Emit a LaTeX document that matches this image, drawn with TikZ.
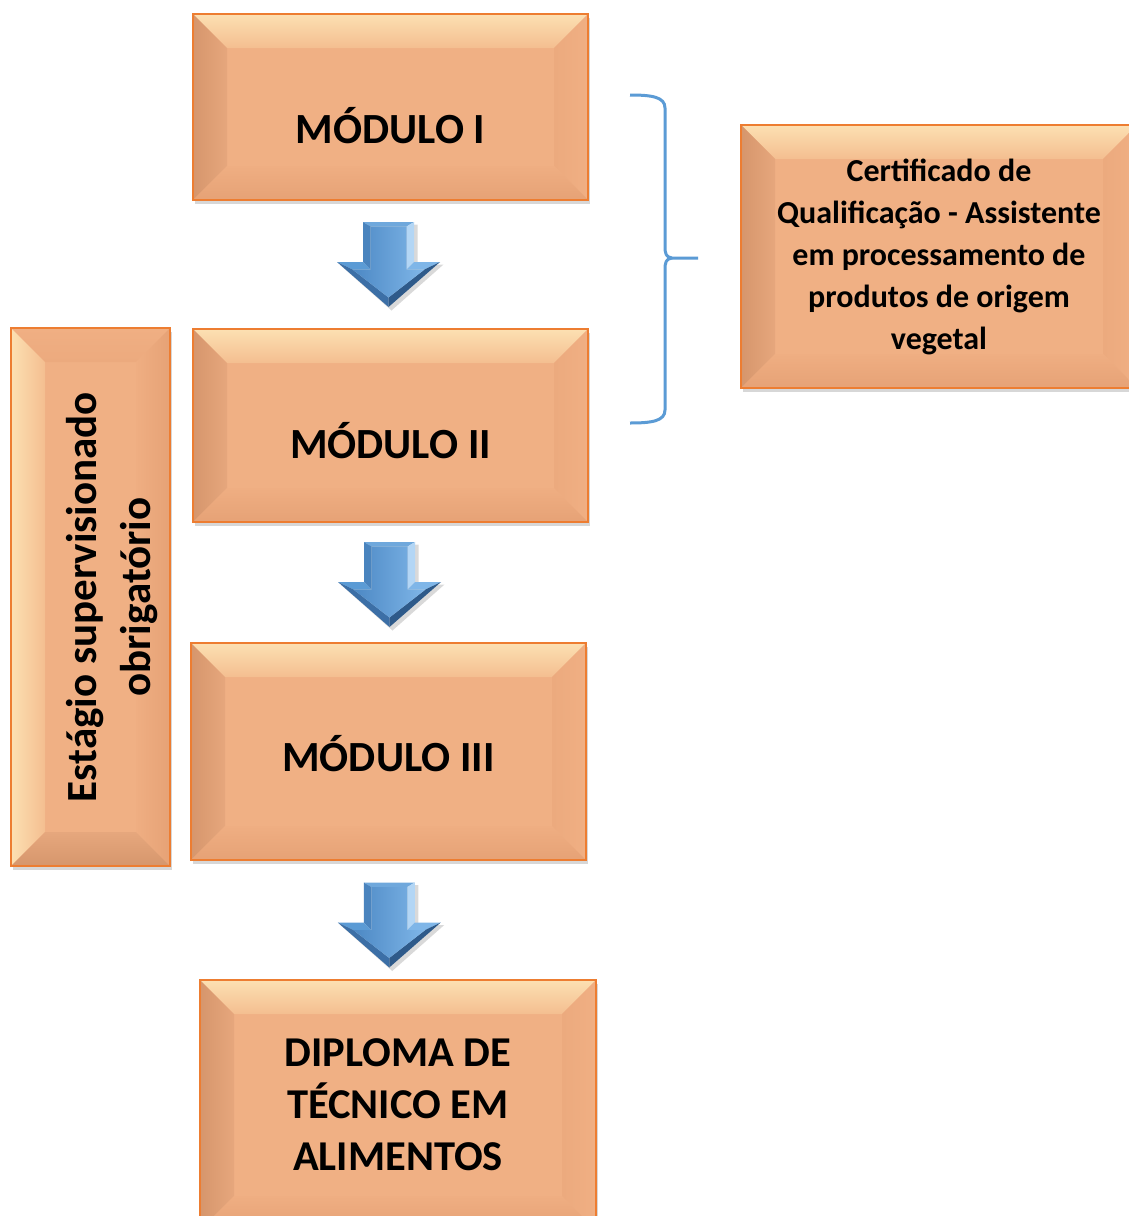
\documentclass[tikz,border=0pt]{standalone}
\usepackage{fontspec}
\setmainfont{Carlito}
\usetikzlibrary{calc,shadows}
\definecolor{boxface}{HTML}{F0B084}
\definecolor{boxborder}{HTML}{ED7D31}
\definecolor{bevtopA}{HTML}{FCE0B2}
\definecolor{bevtopB}{HTML}{F4BE90}
\definecolor{bevleftA}{HTML}{D6966C}
\definecolor{bevleftB}{HTML}{E6A77D}
\definecolor{bevrightA}{HTML}{F0AF83}
\definecolor{bevrightB}{HTML}{ECAA7E}
\definecolor{bevbotA}{HTML}{EFAE82}
\definecolor{bevbotB}{HTML}{E6A276}
\definecolor{bracecol}{HTML}{5B9BD5}
\definecolor{arrface}{HTML}{5B9BD5}
\definecolor{arrfaceL}{HTML}{4C88C4}
\definecolor{arrfaceR}{HTML}{7FB6E8}
\definecolor{arrtop}{HTML}{6FA8DC}
\definecolor{arrleft}{HTML}{4A84BE}
\definecolor{arrright}{HTML}{B3D6F5}
\definecolor{arrdark}{HTML}{3C6FA6}
\definecolor{arrdarker}{HTML}{2E5A8A}
\tikzset{
  bevelfill/.style={path picture={
    \def\bd{34pt}
    \coordinate (bnw) at (path picture bounding box.north west);
    \coordinate (bne) at (path picture bounding box.north east);
    \coordinate (bsw) at (path picture bounding box.south west);
    \coordinate (bse) at (path picture bounding box.south east);
    \shade[top color=bevtopA, bottom color=bevtopB] (bnw) -- (bne) -- ([xshift=-\bd,yshift=-\bd]bne) -- ([xshift=\bd,yshift=-\bd]bnw) -- cycle;
    \shade[left color=bevleftA, right color=bevleftB] (bnw) -- (bsw) -- ([xshift=\bd,yshift=\bd]bsw) -- ([xshift=\bd,yshift=-\bd]bnw) -- cycle;
    \shade[left color=bevrightB, right color=bevrightA] (bne) -- (bse) -- ([xshift=-\bd,yshift=\bd]bse) -- ([xshift=-\bd,yshift=-\bd]bne) -- cycle;
    \shade[top color=bevbotA, bottom color=bevbotB] (bsw) -- (bse) -- ([xshift=-\bd,yshift=\bd]bse) -- ([xshift=\bd,yshift=\bd]bsw) -- cycle;
  }},
  bevelrot/.style={path picture={
    \def\bd{34pt}
    \coordinate (bnw) at (path picture bounding box.north west);
    \coordinate (bne) at (path picture bounding box.north east);
    \coordinate (bsw) at (path picture bounding box.south west);
    \coordinate (bse) at (path picture bounding box.south east);
    \shade[top color=bevrightA, bottom color=bevrightB] (bnw) -- (bne) -- ([xshift=-\bd,yshift=-\bd]bne) -- ([xshift=\bd,yshift=-\bd]bnw) -- cycle;
    \shade[left color=bevtopA, right color=bevtopB] (bnw) -- (bsw) -- ([xshift=\bd,yshift=\bd]bsw) -- ([xshift=\bd,yshift=-\bd]bnw) -- cycle;
    \shade[left color=bevbotA, right color=bevbotB] (bne) -- (bse) -- ([xshift=-\bd,yshift=\bd]bse) -- ([xshift=-\bd,yshift=-\bd]bne) -- cycle;
    \shade[top color=bevleftB, bottom color=bevleftA] (bsw) -- (bse) -- ([xshift=-\bd,yshift=\bd]bse) -- ([xshift=\bd,yshift=\bd]bsw) -- cycle;
  }},
  boxbase/.style={draw=boxborder, line width=1.6pt, fill=boxface,
    align=center, inner sep=0pt, text=black,
    drop shadow={opacity=0.22, shadow xshift=2pt, shadow yshift=-4pt, fill=black!70}},
  orangebox/.style={boxbase, bevelfill},
  orangeboxrot/.style={boxbase, bevelrot},
  modfont/.style={font=\fontsize{43}{52}\selectfont\bfseries, text depth=0pt},
  blockarrow/.pic={
    \fill[black, opacity=0.15] (-23,-40) -- (29,-40) -- (29,0) -- (55,0) -- (3,46) -- (-49,0) -- (-23,0) -- cycle;
    \fill[arrtop] (-25.5,-42.5) -- (25.5,-42.5) -- (18,-38) -- (-18,-38) -- cycle;
    \fill[arrleft] (-25.5,-42.5) -- (-18,-38) -- (-18,5) -- (-25.5,-2.5) -- cycle;
    \fill[arrright] (25.5,-42.5) -- (18,-38) -- (18,5) -- (25.5,-2.5) -- cycle;
    \fill[arrface] (-25.5,-2.5) -- (-18,5) -- (-36,5) -- (-51.5,-2.5) -- cycle;
    \fill[arrfaceR] (25.5,-2.5) -- (18,5) -- (36,5) -- (51.5,-2.5) -- cycle;
    \fill[arrdark] (-51.5,-2.5) -- (-36,5) -- (0,33) -- (0,42.5) -- cycle;
    \fill[arrdarker] (51.5,-2.5) -- (36,5) -- (0,33) -- (0,42.5) -- cycle;
    \shade[left color=arrfaceL, right color=arrfaceR] (-18,-38) -- (18,-38) -- (18,5) -- (36,5) -- (0,33) -- (-36,5) -- (-18,5) -- cycle;
  },
}
\begin{document}
\begin{tikzpicture}[x=1pt,y=-1pt]
\useasboundingbox (0,0) rectangle (1129,1216);
\clip (0,0) rectangle (1129,1216);
\fill[white] (0,0) rectangle (1129,1216);

\node[orangebox, modfont, minimum width=395pt, minimum height=186pt, text height=73pt] (m1) at (390.5,107) {MÓDULO I};
\node[orangebox, modfont, minimum width=395pt, minimum height=193pt, text height=65pt] (m2) at (390.5,425.5) {MÓDULO II};
\node[orangebox, modfont, minimum width=395pt, minimum height=217pt, text height=39pt] (m3) at (388.5,751.5) {MÓDULO III};
\node[orangebox, font=\fontsize{42.5}{52}\selectfont\bfseries, minimum width=396pt, minimum height=250pt] (dip) at (398,1105) {DIPLOMA DE\\TÉCNICO EM\\ALIMENTOS};
\node[orangeboxrot, font=\fontsize{43}{55}\selectfont\bfseries, minimum width=159pt, minimum height=538pt] (est) at (90.5,597) {\hspace*{44pt}\rotatebox{90}{\begin{tabular}{@{}c@{}}Estágio supervisionado\\obrigatório\end{tabular}}};
\node[orangebox, font=\fontsize{32}{42}\selectfont\bfseries, minimum width=396pt, minimum height=263pt] (cert) at (939,256.5) {Certificado de\\Qualificação - Assistente\\em processamento de\\produtos de origem\\vegetal};

\pic at ($(m1.south)!0.5!(m2.north)+(-2,0)$) {blockarrow};
\pic at ($(m2.south)!0.5!(m3.north)+(0,2)$) {blockarrow};
\pic at ($(m3.south)!0.5!(dip.north)+(-4,5)$) {blockarrow};

\coordinate (brtop) at (630,95);
\coordinate (brtip) at (698,258);
\coordinate (brbot) at (630,423);
\draw[bracecol, line width=3pt, line join=round] (brtop) .. controls (652,95) and (665,97) .. (665,108) -- (665,246) .. controls (665,254) and (666,257) .. (672,258) -- (brtip);
\draw[bracecol, line width=3pt, line join=round] (672,258) .. controls (666,259) and (665,262) .. (665,270) -- (665,410) .. controls (665,421) and (652,423) .. (brbot);
\end{tikzpicture}
\end{document}
